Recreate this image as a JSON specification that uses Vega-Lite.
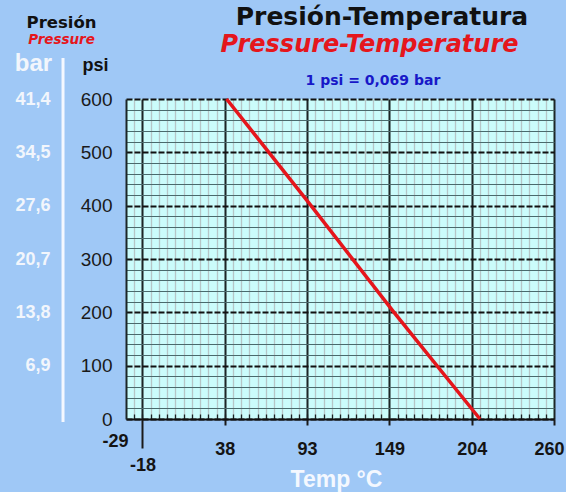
{
  "$schema": "https://vega.github.io/schema/vega-lite/v6.json",
  "width": 428,
  "height": 320,
  "autosize": {"type": "none"},
  "padding": {"left": 126, "top": 99, "right": 12, "bottom": 73},
  "background": "#9fc8f6",
  "config": {
    "view": {"fill": "#cbfcfb", "stroke": null},
    "axis": {"labelFont": "Liberation Sans", "titleFont": "Liberation Sans"}
  },
  "datasets": {
    "curve": [
      {"temp_c": 39, "psi": 600},
      {"temp_c": 96, "psi": 400},
      {"temp_c": 152, "psi": 200},
      {"temp_c": 210, "psi": 0}
    ]
  },
  "resolve": {"axis": {"x": "independent", "y": "independent"}},
  "layer": [
    {
      "data": {"name": "curve"},
      "mark": {"type": "line", "opacity": 0},
      "encoding": {
        "x": {"field": "temp_c", "type": "quantitative",
          "scale": {"domain": [-28.89, 260], "nice": false, "zero": false},
          "axis": {"orient": "bottom", "values": [-23.33,-17.78,-12.22,-6.67,-1.11,4.44,10,15.56,21.11,26.67,32.22,37.78,43.33,48.89,54.44,60,65.56,71.11,76.67,82.22,87.78,93.33,98.89,104.44,110,115.56,121.11,126.67,132.22,137.78,143.33,148.89,154.44,160,165.56,171.11,176.67,182.22,187.78,193.33,198.89,204.44,210,215.56,221.11,226.67,232.22,237.78,243.33,248.89,254.44],
            "grid": true, "gridColor": "#b6c6c7", "gridWidth": 1.3,
            "labels": false, "ticks": true, "tickSize": -5, "tickColor": "#1c2424", "tickWidth": 1.3,
            "domain": false, "title": null}},
        "y": {"field": "psi", "type": "quantitative",
          "scale": {"domain": [0, 600], "nice": false, "zero": false},
          "axis": {"orient": "left", "values": [20,40,60,80,120,140,160,180,220,240,260,280,320,340,360,380,420,440,460,480,520,540,560,580],
            "grid": true, "gridColor": "#4a6a6c", "gridWidth": 1.2,
            "labels": false, "ticks": false, "domain": false, "title": null}}
      }
    },
    {
      "data": {"name": "curve"},
      "mark": {"type": "line", "opacity": 0},
      "encoding": {
        "x": {"field": "temp_c", "type": "quantitative",
          "scale": {"domain": [-28.89, 260], "nice": false, "zero": false},
          "axis": {"orient": "bottom", "values": [37.78, 93.33, 148.89, 204.44],
            "labelExpr": "format(datum.value, '.0f')",
            "grid": true, "gridColor": "#1c2626", "gridWidth": 2,
            "ticks": true, "tickSize": 6, "tickColor": "#1a1a1a", "tickWidth": 2,
            "domain": true, "domainColor": "#111111", "domainWidth": 2,
            "labelFontSize": 18, "labelFontWeight": "bold", "labelColor": "#141414",
            "labelBaseline": "alphabetic", "labelPadding": 29, "labelFlush": false,
            "title": "Temp °C", "titleColor": "#f4f8ff", "titleFontSize": 23, "titleFontWeight": "bold",
            "titleX": 210, "titleY": 67, "titleAlign": "center", "titleBaseline": "alphabetic"}},
        "y": {"field": "psi", "type": "quantitative",
          "scale": {"domain": [0, 600], "nice": false, "zero": false},
          "axis": {"orient": "left", "values": [0,100,200,300,400,500,600],
            "grid": true, "gridColor": "#111111", "gridWidth": 2, "gridDash": [6, 2],
            "ticks": false, "domain": true, "domainColor": "#1c2626", "domainWidth": 2,
            "labelFontSize": 19, "labelColor": "#1a1a1a", "labelPadding": 14,
            "title": "psi", "titleAngle": 0, "titleFontSize": 18, "titleFontWeight": "bold", "titleColor": "#111111",
            "titleX": -31, "titleY": -29, "titleAlign": "center", "titleBaseline": "alphabetic"}}
      }
    },
    {
      "data": {"name": "curve"},
      "mark": {"type": "line", "opacity": 0},
      "encoding": {
        "x": {"field": "temp_c", "type": "quantitative",
          "scale": {"domain": [-28.89, 260], "nice": false, "zero": false},
          "axis": {"orient": "bottom", "values": [260], "labelExpr": "'260'",
            "grid": true, "gridColor": "#1c2626", "gridWidth": 2,
            "ticks": true, "tickSize": 6, "tickColor": "#1a1a1a", "tickWidth": 2,
            "domain": false, "labelFontSize": 18, "labelFontWeight": "bold", "labelColor": "#141414",
            "labelOffset": -5,
            "labelBaseline": "alphabetic", "labelPadding": 29, "labelFlush": false, "title": null}},
        "y": {"field": "psi", "type": "quantitative",
          "scale": {"domain": [0, 600], "nice": false, "zero": false},
          "axis": null}
      }
    },
    {
      "data": {"name": "curve"},
      "mark": {"type": "line", "opacity": 0},
      "encoding": {
        "x": {"field": "temp_c", "type": "quantitative",
          "scale": {"domain": [-28.89, 260], "nice": false, "zero": false},
          "axis": {"orient": "bottom", "values": [-17.78], "labelExpr": "'-18'",
            "grid": true, "gridColor": "#1c2626", "gridWidth": 2,
            "ticks": true, "tickSize": 29, "tickColor": "#1a1a1a", "tickWidth": 2,
            "domain": false, "labelFontSize": 18, "labelFontWeight": "bold", "labelColor": "#141414",
            "labelBaseline": "alphabetic", "labelPadding": 22, "labelFlush": false, "title": null}},
        "y": {"field": "psi", "type": "quantitative",
          "scale": {"domain": [0, 600], "nice": false, "zero": false},
          "axis": null}
      }
    },
    {
      "data": {"name": "curve"},
      "mark": {"type": "line", "opacity": 0},
      "encoding": {
        "x": {"field": "temp_c", "type": "quantitative",
          "scale": {"domain": [-28.89, 260], "nice": false, "zero": false},
          "axis": {"orient": "bottom", "values": [-28.89], "labelExpr": "'-29'",
            "grid": false, "ticks": false, "domain": false,
            "labelFontSize": 18, "labelFontWeight": "bold", "labelColor": "#141414",
            "labelAlign": "right", "labelOffset": 2,
            "labelBaseline": "alphabetic", "labelPadding": 27, "labelFlush": false, "title": null}},
        "y": {"field": "psi", "type": "quantitative",
          "scale": {"domain": [0, 600], "nice": false, "zero": false},
          "axis": {"orient": "left", "offset": 63, "values": [0,100,200,300,400,500,600],
            "labelExpr": "datum.value == 0 ? '' : replace(format(datum.value * 0.069, '.1f'), '.', ',')",
            "grid": false, "ticks": false, "domain": false,
            "labelFontSize": 18, "labelFontWeight": "bold", "labelColor": "#f2f6fc", "labelPadding": 13,
            "title": "bar", "titleAngle": 0, "titleFontSize": 24, "titleFontWeight": "bold", "titleColor": "#f2f6fc",
            "titleX": -30, "titleY": -29, "titleAlign": "center", "titleBaseline": "alphabetic"}}
      }
    },
    {
      "data": {"values": [{"label": "white divider"}]},
      "mark": {"type": "rule", "color": "#f4f8ff", "strokeWidth": 3},
      "encoding": {
        "x": {"datum": -71.4, "type": "quantitative", "scale": {"domain": [-28.89, 260], "nice": false, "zero": false}, "axis": null},
        "y": {"datum": -5.6, "type": "quantitative", "scale": {"domain": [0, 600], "nice": false, "zero": false}, "axis": null},
        "y2": {"datum": 677}
      }
    },
    {
      "data": {"name": "curve"},
      "mark": {"type": "line", "color": "#e5161c", "strokeWidth": 3.5},
      "encoding": {
        "x": {"field": "temp_c", "type": "quantitative", "scale": {"domain": [-28.89, 260], "nice": false, "zero": false}, "axis": null},
        "y": {"field": "psi", "type": "quantitative", "scale": {"domain": [0, 600], "nice": false, "zero": false}, "axis": null}
      }
    },
    {
      "data": {"values": [{"label": "Presión-Temperatura"}]},
      "mark": {"type": "text", "font": "DejaVu Sans", "fontSize": 25, "fontWeight": "bold", "color": "#111111", "align": "center", "baseline": "alphabetic"},
      "encoding": {
        "x": {"datum": 143.9, "type": "quantitative", "scale": {"domain": [-28.89, 260], "nice": false, "zero": false}, "axis": null},
        "y": {"datum": 738, "type": "quantitative", "scale": {"domain": [0, 600], "nice": false, "zero": false}, "axis": null},
        "text": {"field": "label"}
      }
    },
    {
      "data": {"values": [{"label": "Pressure-Temperature"}]},
      "mark": {"type": "text", "font": "DejaVu Sans", "fontSize": 24, "fontWeight": "bold", "fontStyle": "italic", "color": "#e5161c", "align": "center", "baseline": "alphabetic"},
      "encoding": {
        "x": {"datum": 135.5, "type": "quantitative", "scale": {"domain": [-28.89, 260], "nice": false, "zero": false}, "axis": null},
        "y": {"datum": 688, "type": "quantitative", "scale": {"domain": [0, 600], "nice": false, "zero": false}, "axis": null},
        "text": {"field": "label"}
      }
    },
    {
      "data": {"values": [{"label": "1 psi = 0,069 bar"}]},
      "mark": {"type": "text", "font": "DejaVu Sans", "fontSize": 14, "fontWeight": "bold", "color": "#1818c8", "align": "center", "baseline": "alphabetic"},
      "encoding": {
        "x": {"datum": 137.8, "type": "quantitative", "scale": {"domain": [-28.89, 260], "nice": false, "zero": false}, "axis": null},
        "y": {"datum": 626, "type": "quantitative", "scale": {"domain": [0, 600], "nice": false, "zero": false}, "axis": null},
        "text": {"field": "label"}
      }
    },
    {
      "data": {"values": [{"label": "Presión"}]},
      "mark": {"type": "text", "font": "DejaVu Sans", "fontSize": 16.5, "fontWeight": "bold", "color": "#111111", "align": "center", "baseline": "alphabetic"},
      "encoding": {
        "x": {"datum": -72.4, "type": "quantitative", "scale": {"domain": [-28.89, 260], "nice": false, "zero": false}, "axis": null},
        "y": {"datum": 733, "type": "quantitative", "scale": {"domain": [0, 600], "nice": false, "zero": false}, "axis": null},
        "text": {"field": "label"}
      }
    },
    {
      "data": {"values": [{"label": "Pressure"}]},
      "mark": {"type": "text", "font": "DejaVu Sans", "fontSize": 13.5, "fontWeight": "bold", "fontStyle": "italic", "color": "#e5161c", "align": "center", "baseline": "alphabetic"},
      "encoding": {
        "x": {"datum": -72.4, "type": "quantitative", "scale": {"domain": [-28.89, 260], "nice": false, "zero": false}, "axis": null},
        "y": {"datum": 703, "type": "quantitative", "scale": {"domain": [0, 600], "nice": false, "zero": false}, "axis": null},
        "text": {"field": "label"}
      }
    }
  ]
}
